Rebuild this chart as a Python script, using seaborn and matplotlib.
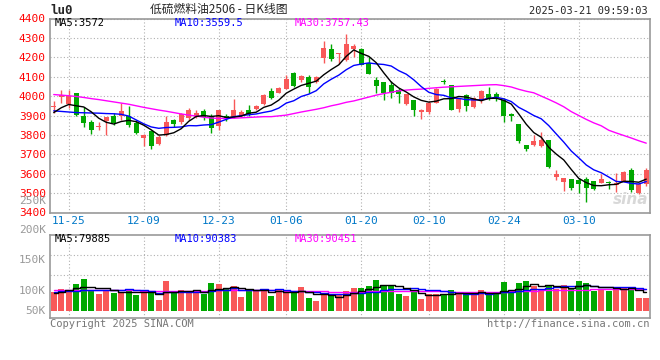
import numpy as np
import pandas as pd
import matplotlib
matplotlib.use('Agg')
import matplotlib.pyplot as plt
import seaborn as sns

# --- dane: dzienne świece lu0 (21.11.2024 - 21.03.2025) ---
opens = [3945, 3997, 3960, 4014, 3898, 3864, 3842, 3874, 3898, 3898,
         3898, 3861, 3784, 3818, 3753, 3801, 3878, 3864, 3885, 3893,
         3924, 3895, 3844, 3898, 3890, 3898, 3929, 3936, 3960, 4026,
         4018, 4037, 4121, 4083, 4100, 4073, 4194, 4245, 4215, 4185,
         4245, 4242, 4172, 4083, 4073, 4056, 4032, 3960, 3980, 3916,
         3920, 3967, 4077, 4057, 3935, 4004, 3943, 3980, 4011, 4011,
         3981, 3909, 3858, 3750, 3750, 3745, 3773, 3583, 3557, 3571,
         3566, 3574, 3561, 3552, 3556, 3544, 3559, 3619, 3499, 3547]
highs = [3975, 4034, 4030, 4018, 3946, 3878, 3864, 3893, 3915, 3967,
         3950, 3878, 3806, 3827, 3801, 3895, 3880, 3915, 3941, 3929,
         3935, 3907, 3929, 3907, 3985, 3926, 3955, 3955, 4011, 4040,
         4045, 4108, 4126, 4108, 4108, 4103, 4283, 4266, 4221, 4322,
         4271, 4249, 4203, 4097, 4073, 4078, 4040, 4011, 3980, 3935,
         3975, 4040, 4090, 4057, 3992, 4011, 3996, 4032, 4049, 4020,
         3990, 3912, 3858, 3750, 3802, 3814, 3776, 3619, 3576, 3571,
         3576, 3585, 3561, 3598, 3562, 3605, 3612, 3629, 3552, 3631]
lows = [3915, 3966, 3940, 3895, 3843, 3806, 3823, 3801, 3852, 3878,
        3843, 3806, 3741, 3727, 3748, 3795, 3843, 3857, 3878, 3885,
        3878, 3809, 3826, 3870, 3886, 3890, 3895, 3930, 3955, 3985,
        4015, 4035, 4049, 4075, 4018, 4066, 4172, 4182, 4168, 4182,
        4200, 4160, 4114, 4015, 3980, 3991, 3967, 3952, 3895, 3883,
        3910, 3965, 4060, 3926, 3917, 3921, 3937, 3963, 3980, 3977,
        3865, 3870, 3759, 3716, 3745, 3737, 3631, 3568, 3511, 3515,
        3499, 3455, 3518, 3552, 3520, 3506, 3556, 3506, 3495, 3537]
closes = [3948, 4008, 3998, 3903, 3861, 3823, 3846, 3891, 3861, 3924,
          3852, 3810, 3801, 3741, 3789, 3867, 3857, 3907, 3929, 3915,
          3893, 3833, 3926, 3881, 3929, 3917, 3907, 3950, 4006, 3992,
          4042, 4086, 4052, 4103, 4049, 4097, 4249, 4189, 4221, 4271,
          4259, 4160, 4114, 4054, 4015, 4015, 4011, 4011, 3926, 3929,
          3967, 4037, 4073, 3929, 3985, 3950, 3989, 4028, 3989, 3989,
          3895, 3896, 3771, 3725, 3771, 3776, 3636, 3597, 3576, 3525,
          3547, 3525, 3520, 3573, 3551, 3554, 3608, 3516, 3549, 3619]

ma5 = [3915, 3940, 3957, 3950, 3944, 3919, 3886, 3865, 3856, 3869,
       3875, 3868, 3850, 3826, 3799, 3802, 3811, 3832, 3870, 3895,
       3900, 3895, 3899, 3890, 3892, 3897, 3912, 3917, 3942, 3954,
       3979, 4015, 4036, 4055, 4066, 4077, 4110, 4137, 4161, 4205,
       4238, 4220, 4205, 4172, 4120, 4072, 4042, 4021, 3996, 3978,
       3969, 3974, 3986, 3987, 3998, 3995, 3985, 3976, 3988, 3989,
       3978, 3959, 3908, 3855, 3812, 3788, 3736, 3701, 3671, 3622,
       3576, 3554, 3539, 3538, 3543, 3545, 3561, 3560, 3556, 3572]
ma10 = [3924, 3921, 3918, 3915, 3914, 3913, 3912, 3910, 3909, 3906,
        3897, 3877, 3857, 3841, 3834, 3838, 3839, 3841, 3848, 3847,
        3851, 3853, 3866, 3880, 3894, 3899, 3904, 3908, 3916, 3923,
        3938, 3964, 3976, 3998, 4010, 4028, 4063, 4087, 4108, 4136,
        4158, 4165, 4171, 4166, 4163, 4155, 4131, 4113, 4084, 4049,
        4020, 4008, 4004, 3991, 3988, 3982, 3980, 3981, 3988, 3994,
        3986, 3972, 3942, 3922, 3900, 3883, 3848, 3805, 3763, 3717,
        3682, 3645, 3620, 3605, 3583, 3560, 3558, 3550, 3547, 3559.5]
ma30 = [4008, 4005, 4002, 3998, 3993, 3987, 3982, 3976, 3970, 3964,
        3958, 3950, 3942, 3935, 3928, 3922, 3915, 3908, 3902, 3897,
        3891, 3887, 3885, 3885, 3886, 3888, 3890, 3892, 3894, 3894,
        3898, 3902, 3910, 3918, 3925, 3932, 3940, 3950, 3958, 3968,
        3975, 3985, 3995, 4005, 4013, 4020, 4027, 4031, 4034, 4036,
        4040, 4043, 4046, 4048, 4050, 4052, 4054, 4056, 4058, 4059,
        4054, 4047, 4035, 4025, 4017, 4000, 3983, 3965, 3945, 3920,
        3900, 3880, 3862, 3847, 3824, 3810, 3797, 3784, 3770, 3757.43]

# wolumen w tys.
volume = [77, 91, 87, 112, 132, 81, 70, 81, 76, 80,
          84, 66, 81, 77, 46, 124, 73, 87, 76, 77,
          72, 116, 112, 91, 104, 59, 91, 81, 91, 64,
          87, 77, 83, 99, 54, 41, 66, 62, 70, 83,
          95, 95, 104, 128, 108, 104, 70, 62, 83, 50,
          70, 70, 70, 87, 70, 79, 66, 87, 66, 70,
          120, 87, 116, 124, 104, 91, 104, 91, 108, 91,
          124, 116, 83, 91, 83, 101, 101, 91, 54, 54]
vol_ma5 = [75, 78, 86, 95, 99.8, 100.6, 96.4, 95.2, 88, 77.6,
           78.2, 77.4, 77.4, 77.6, 70.8, 78.8, 80.2, 81.4, 81.2, 87.4,
           77, 85.6, 90.6, 93.6, 99, 96.4, 91.4, 85.2, 85.2, 77.2,
           82.8, 80, 80.4, 82, 80, 70.8, 68.6, 64.4, 58.6, 64.4,
           75.2, 81, 89.4, 101, 106, 107.8, 102.8, 94.4, 85.4, 73.8,
           67, 67, 68.6, 69.4, 73.4, 75.2, 74.4, 77.8, 73.6, 73.6,
           81.8, 86, 91.8, 103.4, 110.2, 104.4, 107.8, 102.8, 99.6, 97,
           103.6, 106, 104.4, 101, 99.4, 94.8, 91.8, 93.4, 86, 79.885]
vol_ma10 = [80, 81, 82, 84, 86, 87, 87, 88, 88, 88.7,
            89.4, 86.9, 86.3, 82.8, 74.2, 78.5, 78.8, 79.4, 79.4, 79.1,
            77.9, 82.9, 86, 87.4, 93.2, 86.7, 88.5, 87.9, 89.4, 88.1,
            89.6, 85.7, 82.8, 83.6, 78.6, 76.8, 74.3, 72.4, 70.3, 72.2,
            73, 74.8, 76.9, 79.8, 85.2, 91.5, 91.9, 91.9, 93.2, 89.9,
            87.4, 84.9, 81.5, 77.4, 73.6, 71.1, 70.7, 73.2, 71.5, 73.5,
            78.5, 80.2, 84.8, 88.5, 91.9, 93.1, 96.9, 97.3, 101.5, 103.6,
            104, 106.9, 103.6, 100.3, 98.2, 99.2, 98.9, 98.9, 93.5, 90.383]
vol_ma30 = [85, 85, 85, 85, 85, 85, 85, 85, 85, 85,
            85, 85, 84, 84, 84, 84, 84, 84, 84, 84,
            84, 85, 85, 85, 85, 85, 85, 85, 85, 85,
            84, 83, 83, 82, 82, 81, 81, 80, 80, 80,
            80, 80, 81, 81, 82, 82, 83, 83, 83, 83,
            82, 81, 81, 80, 80, 79, 79, 79, 78, 78,
            80, 81, 82, 83, 84, 85, 86, 87, 88, 89,
            89, 89, 90, 90, 90, 90, 91, 91, 90, 90.451]

tick_idx = [2, 12, 22, 31, 41, 50, 60, 70]
tick_labels = ['11-25', '12-09', '12-23', '01-06', '01-20', '02-10', '02-24', '03-10']
price_ticks = [3400, 3500, 3600, 3700, 3800, 3900, 4000, 4100, 4200, 4300, 4400]
vol_labels = ['250K', '200K', '150K', '100K', '50K']

df = pd.DataFrame({'open': opens, 'high': highs, 'low': lows, 'close': closes,
                   'ma5': ma5, 'ma10': ma10, 'ma30': ma30, 'vol': volume,
                   'vma5': vol_ma5, 'vma10': vol_ma10, 'vma30': vol_ma30})
df['i'] = np.arange(len(df))
df['up'] = df['close'] >= df['open']

RED = '#f85858'
GREEN = '#00a800'
GRID = '#b0b0b0'
EDGE = '#999999'

sns.set_style('white')
plt.rcParams['font.family'] = ['DejaVu Sans Mono', 'Noto Sans CJK SC']

W, H = 660, 360
fig = plt.figure(figsize=(W / 100, H / 100), dpi=100)
ax = fig.add_axes([50 / W, 1 - 212.5 / H, 600 / W, 194 / H])
axv = fig.add_axes([50 / W, 1 - 317.7 / H, 600 / W, 82.7 / H])

# świece
col = np.where(df['up'], RED, GREEN)
ax.vlines(df['i'], df['low'], df['high'], colors=col, lw=1, zorder=2)
body_low = np.minimum(df['open'], df['close'])
body_h = np.maximum((df['close'] - df['open']).abs(), 4)
ax.bar(df['i'], body_h, bottom=body_low, width=0.66, color=col, lw=0, zorder=3)

sns.lineplot(data=df, x='i', y='ma30', color='#ff00ff', lw=1, ax=ax, zorder=4)
sns.lineplot(data=df, x='i', y='ma10', color='#0000ff', lw=1, ax=ax, zorder=4)
sns.lineplot(data=df, x='i', y='ma5', color='black', lw=1, ax=ax, zorder=5)

ax.set_xlim(-0.5, 79.5)
ax.set_ylim(3400, 4400)
ax.set_yticks(price_ticks)
ax.set_xticks(tick_idx)
ax.set_xticklabels(tick_labels)
ax.tick_params(axis='y', length=0, pad=3, labelcolor='#ff0000', labelsize=8)
ax.tick_params(axis='x', length=0, pad=2.5, labelcolor='#0078c8', labelsize=8)
ax.grid(True, linestyle=(0, (1, 2)), color=GRID, lw=0.8, zorder=0)
ax.set_xlabel('')
ax.set_ylabel('')

# wolumen
sns.barplot(data=df, x='i', y='vol', hue='up', palette={True: RED, False: GREEN},
            native_scale=True, dodge=False, width=0.8, saturation=1,
            legend=False, ax=axv, zorder=2, linewidth=0)
for c, key in [('#ff00ff', 'vma30'), ('#0000ff', 'vma10'), ('black', 'vma5')]:
    sns.lineplot(data=df, x='i', y=key, color=c, lw=1, ax=axv, zorder=4,
                 drawstyle='steps-mid')
axv.set_xlim(-0.5, 79.5)
axv.set_ylim(-27.7, 314.6)
axv.set_xticks(tick_idx)
axv.set_xticklabels([])
axv.set_yticks([147.8, 230.6])
axv.set_yticklabels([])
axv.tick_params(length=0)
axv.grid(True, linestyle=(0, (1, 2)), color=GRID, lw=0.8, zorder=0)
axv.set_xlabel('')
axv.set_ylabel('')

for a in (ax, axv):
    for s in a.spines.values():
        s.set_color(EDGE)
        s.set_linewidth(1.2)

# etykiety osi wolumenu (Sina rysuje je przesunięte)
for lab, ypx in zip(vol_labels, [201, 230, 260, 290.5, 310.5]):
    fig.text(46 / W, 1 - ypx / H, lab, ha='right', va='center', color='#999999', fontsize=8)

# legendy MA
fig.text(55 / W, 1 - 23.5 / H, 'MA5:3572', color='black', fontsize=7.5, va='center')
fig.text(175 / W, 1 - 23.5 / H, 'MA10:3559.5', color='#0000ff', fontsize=7.5, va='center')
fig.text(295 / W, 1 - 23.5 / H, 'MA30:3757.43', color='#ff00ff', fontsize=7.5, va='center')
fig.text(55 / W, 1 - 239 / H, 'MA5:79885', color='black', fontsize=7.5, va='center')
fig.text(175 / W, 1 - 239 / H, 'MA10:90383', color='#0000ff', fontsize=7.5, va='center')
fig.text(295 / W, 1 - 239 / H, 'MA30:90451', color='#ff00ff', fontsize=7.5, va='center')

# nagłówek
fig.text(50 / W, 1 - 10.5 / H, 'lu0', fontsize=9, fontweight='bold', va='center')
fig.text(219 / W, 1 - 9.5 / H, '低硫燃料油2506 - 日K线图', fontsize=8.5, ha='center', va='center',
         family=['Noto Sans CJK SC', 'DejaVu Sans'])
fig.text(648 / W, 1 - 11.5 / H, '2025-03-21 09:59:03', fontsize=7.5, ha='right', va='center')

# znak wodny i stopka
fig.text(648 / W, 1 - 200 / H, 'sina', fontsize=11, ha='right', va='center', color='#d8d8d8',
         style='italic', fontweight='bold', family='DejaVu Sans')
fig.text(50 / W, 1 - 324 / H, 'Copyright 2025 SINA.COM', fontsize=7.5, color='#777777', va='center')
fig.text(650 / W, 1 - 324 / H, 'http://finance.sina.com.cn', fontsize=7.5, color='#777777',
         ha='right', va='center')

fig.savefig('out.png', dpi=100)
